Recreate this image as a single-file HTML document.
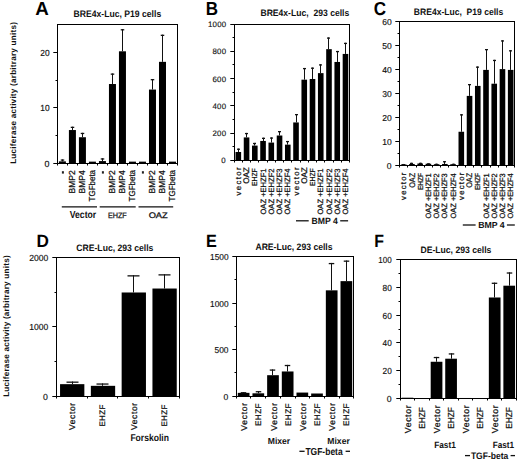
<!DOCTYPE html>
<html><head><meta charset="utf-8"><style>
html,body{margin:0;padding:0;background:#fff;}
svg{display:block;text-rendering:geometricPrecision;font-family:"Liberation Sans",sans-serif;}
</style></head><body>
<svg xml:space="preserve" width="520" height="460" viewBox="0 0 520 460">
<rect width="520" height="460" fill="#fff"/>
<text x="35.25" y="15" font-size="18.75" font-weight="bold" fill="#000" textLength="14" lengthAdjust="spacing">A</text>
<text x="73.62" y="17" font-size="9.45" font-weight="bold" fill="#111" textLength="87.56" lengthAdjust="spacingAndGlyphs">BRE4x-Luc, P19 cells</text>
<rect x="57.5" y="24.5" width="120" height="139" fill="none" stroke="#000" stroke-width="1.0"/>
<line x1="53.3" y1="163.5" x2="57.5" y2="163.5" stroke="#000" stroke-width="1.0"/>
<line x1="53.3" y1="107.5" x2="57.5" y2="107.5" stroke="#000" stroke-width="1.0"/>
<line x1="53.3" y1="52.5" x2="57.5" y2="52.5" stroke="#000" stroke-width="1.0"/>
<line x1="55.5" y1="135.5" x2="57.5" y2="135.5" stroke="#000" stroke-width="1.0"/>
<line x1="55.5" y1="80.5" x2="57.5" y2="80.5" stroke="#000" stroke-width="1.0"/>
<text x="44.54" y="166.8" font-size="8.88" font-weight="normal" fill="#111" stroke="#111" stroke-width="0.15" textLength="5.01" lengthAdjust="spacing">0</text>
<text x="40.24" y="111.36" font-size="8.88" font-weight="normal" fill="#111" stroke="#111" stroke-width="0.15" textLength="9.31" lengthAdjust="spacingAndGlyphs">10</text>
<text x="40.24" y="55.92" font-size="8.88" font-weight="normal" fill="#111" stroke="#111" stroke-width="0.15" textLength="9.31" lengthAdjust="spacingAndGlyphs">20</text>
<rect x="58.9" y="161.36" width="7" height="1.94" fill="#000"/>
<line x1="62.5" y1="159.42" x2="62.5" y2="161.36" stroke="#111" stroke-width="1.0"/>
<line x1="60.75" y1="160.07" x2="64.25" y2="160.07" stroke="#111" stroke-width="1.3"/>
<rect x="68.91" y="130.04" width="7" height="33.26" fill="#000"/>
<line x1="72.5" y1="126.71" x2="72.5" y2="130.04" stroke="#111" stroke-width="1.0"/>
<line x1="70.75" y1="127.36" x2="74.25" y2="127.36" stroke="#111" stroke-width="1.3"/>
<rect x="78.92" y="137.24" width="7" height="26.06" fill="#000"/>
<line x1="82.5" y1="132.81" x2="82.5" y2="137.24" stroke="#111" stroke-width="1.0"/>
<line x1="80.75" y1="133.46" x2="84.25" y2="133.46" stroke="#111" stroke-width="1.3"/>
<rect x="88.93" y="161.64" width="7" height="1.66" fill="#000"/>
<rect x="98.94" y="161.08" width="7" height="2.22" fill="#000"/>
<line x1="102.5" y1="158.31" x2="102.5" y2="161.08" stroke="#111" stroke-width="1.0"/>
<line x1="100.75" y1="158.96" x2="104.25" y2="158.96" stroke="#111" stroke-width="1.3"/>
<rect x="108.95" y="84.02" width="7" height="79.28" fill="#000"/>
<line x1="112.5" y1="73.49" x2="112.5" y2="84.02" stroke="#111" stroke-width="1.0"/>
<line x1="110.75" y1="74.14" x2="114.25" y2="74.14" stroke="#111" stroke-width="1.3"/>
<rect x="118.95" y="51.31" width="7" height="111.99" fill="#000"/>
<line x1="122.5" y1="29.14" x2="122.5" y2="51.31" stroke="#111" stroke-width="1.0"/>
<line x1="120.75" y1="29.79" x2="124.25" y2="29.79" stroke="#111" stroke-width="1.3"/>
<rect x="128.96" y="161.64" width="7" height="1.66" fill="#000"/>
<rect x="138.97" y="161.64" width="7" height="1.66" fill="#000"/>
<rect x="148.98" y="89.56" width="7" height="73.74" fill="#000"/>
<line x1="152.5" y1="79.03" x2="152.5" y2="89.56" stroke="#111" stroke-width="1.0"/>
<line x1="150.75" y1="79.68" x2="154.25" y2="79.68" stroke="#111" stroke-width="1.3"/>
<rect x="158.99" y="61.84" width="7" height="101.46" fill="#000"/>
<line x1="162.5" y1="34.68" x2="162.5" y2="61.84" stroke="#111" stroke-width="1.0"/>
<line x1="160.75" y1="35.33" x2="164.25" y2="35.33" stroke="#111" stroke-width="1.3"/>
<rect x="169" y="161.64" width="7" height="1.66" fill="#000"/>
<line x1="57.5" y1="163.5" x2="57.5" y2="165.5" stroke="#000" stroke-width="1.0"/>
<line x1="67.5" y1="163.5" x2="67.5" y2="165.5" stroke="#000" stroke-width="1.0"/>
<line x1="77.5" y1="163.5" x2="77.5" y2="165.5" stroke="#000" stroke-width="1.0"/>
<line x1="87.5" y1="163.5" x2="87.5" y2="165.5" stroke="#000" stroke-width="1.0"/>
<line x1="97.5" y1="163.5" x2="97.5" y2="165.5" stroke="#000" stroke-width="1.0"/>
<line x1="107.5" y1="163.5" x2="107.5" y2="165.5" stroke="#000" stroke-width="1.0"/>
<line x1="117.5" y1="163.5" x2="117.5" y2="165.5" stroke="#000" stroke-width="1.0"/>
<line x1="127.5" y1="163.5" x2="127.5" y2="165.5" stroke="#000" stroke-width="1.0"/>
<line x1="137.5" y1="163.5" x2="137.5" y2="165.5" stroke="#000" stroke-width="1.0"/>
<line x1="147.5" y1="163.5" x2="147.5" y2="165.5" stroke="#000" stroke-width="1.0"/>
<line x1="157.5" y1="163.5" x2="157.5" y2="165.5" stroke="#000" stroke-width="1.0"/>
<line x1="167.5" y1="163.5" x2="167.5" y2="165.5" stroke="#000" stroke-width="1.0"/>
<line x1="177.5" y1="163.5" x2="177.5" y2="165.5" stroke="#000" stroke-width="1.0"/>
<text transform="translate(75.2,193.45) rotate(-90)" font-size="8.72" font-weight="normal" fill="#111" stroke="#111" stroke-width="0.25" textLength="23.1" lengthAdjust="spacingAndGlyphs">BMP2</text>
<text transform="translate(85.2,193.45) rotate(-90)" font-size="8.72" font-weight="normal" fill="#111" stroke="#111" stroke-width="0.25" textLength="23.1" lengthAdjust="spacingAndGlyphs">BMP4</text>
<text transform="translate(95.1,201.45) rotate(-90)" font-size="8.72" font-weight="normal" fill="#111" stroke="#111" stroke-width="0.25" textLength="31.5" lengthAdjust="spacingAndGlyphs">TGFbeta</text>
<text transform="translate(115.2,193.45) rotate(-90)" font-size="8.72" font-weight="normal" fill="#111" stroke="#111" stroke-width="0.25" textLength="23.1" lengthAdjust="spacingAndGlyphs">BMP2</text>
<text transform="translate(125.2,193.45) rotate(-90)" font-size="8.72" font-weight="normal" fill="#111" stroke="#111" stroke-width="0.25" textLength="23.1" lengthAdjust="spacingAndGlyphs">BMP4</text>
<text transform="translate(135.1,201.45) rotate(-90)" font-size="8.72" font-weight="normal" fill="#111" stroke="#111" stroke-width="0.25" textLength="31.5" lengthAdjust="spacingAndGlyphs">TGFbeta</text>
<text transform="translate(155.2,193.45) rotate(-90)" font-size="8.72" font-weight="normal" fill="#111" stroke="#111" stroke-width="0.25" textLength="23.1" lengthAdjust="spacingAndGlyphs">BMP2</text>
<text transform="translate(165.2,193.45) rotate(-90)" font-size="8.72" font-weight="normal" fill="#111" stroke="#111" stroke-width="0.25" textLength="23.1" lengthAdjust="spacingAndGlyphs">BMP4</text>
<text transform="translate(175.1,201.45) rotate(-90)" font-size="8.72" font-weight="normal" fill="#111" stroke="#111" stroke-width="0.25" textLength="31.5" lengthAdjust="spacingAndGlyphs">TGFbeta</text>
<rect x="61.9" y="171.2" width="2" height="2.4" fill="#222"/>
<rect x="101.9" y="171.2" width="2" height="2.4" fill="#222"/>
<rect x="141.9" y="171.2" width="2" height="2.4" fill="#222"/>
<line x1="61.8" y1="206.8" x2="97" y2="206.8" stroke="#111" stroke-width="1.2"/>
<line x1="99.7" y1="206.8" x2="135.7" y2="206.8" stroke="#111" stroke-width="1.2"/>
<line x1="138.5" y1="206.8" x2="173.2" y2="206.8" stroke="#111" stroke-width="1.2"/>
<text x="69.79" y="218" font-size="10.17" font-weight="bold" fill="#111" textLength="26.41" lengthAdjust="spacingAndGlyphs">Vector</text>
<text x="107.89" y="218" font-size="7.7" font-weight="normal" fill="#111" stroke="#111" stroke-width="0.25" textLength="18.92" lengthAdjust="spacingAndGlyphs">EHZF</text>
<text x="148.67" y="218" font-size="8.14" font-weight="normal" fill="#111" stroke="#111" stroke-width="0.3" textLength="19.05" lengthAdjust="spacingAndGlyphs">OAZ</text>
<text x="205.75" y="15" font-size="18.75" font-weight="bold" fill="#000" textLength="12.3" lengthAdjust="spacingAndGlyphs">B</text>
<text x="260.43" y="16" font-size="9.3" font-weight="bold" fill="#111" textLength="88.84" lengthAdjust="spacingAndGlyphs">BRE4x-Luc, &#160;293 cells</text>
<rect x="234.5" y="24.5" width="115" height="136" fill="none" stroke="#000" stroke-width="1.0"/>
<line x1="230.3" y1="160.5" x2="234.5" y2="160.5" stroke="#000" stroke-width="1.0"/>
<line x1="230.3" y1="133.5" x2="234.5" y2="133.5" stroke="#000" stroke-width="1.0"/>
<line x1="230.3" y1="105.5" x2="234.5" y2="105.5" stroke="#000" stroke-width="1.0"/>
<line x1="230.3" y1="78.5" x2="234.5" y2="78.5" stroke="#000" stroke-width="1.0"/>
<line x1="230.3" y1="51.5" x2="234.5" y2="51.5" stroke="#000" stroke-width="1.0"/>
<line x1="230.3" y1="24.5" x2="234.5" y2="24.5" stroke="#000" stroke-width="1.0"/>
<line x1="232.5" y1="146.5" x2="234.5" y2="146.5" stroke="#000" stroke-width="1.0"/>
<line x1="232.5" y1="119.5" x2="234.5" y2="119.5" stroke="#000" stroke-width="1.0"/>
<line x1="232.5" y1="92.5" x2="234.5" y2="92.5" stroke="#000" stroke-width="1.0"/>
<line x1="232.5" y1="64.5" x2="234.5" y2="64.5" stroke="#000" stroke-width="1.0"/>
<line x1="232.5" y1="37.5" x2="234.5" y2="37.5" stroke="#000" stroke-width="1.0"/>
<text x="221.18" y="163.45" font-size="7.88" font-weight="normal" fill="#111" stroke="#111" stroke-width="0.15" textLength="5.03" lengthAdjust="spacing">0</text>
<text x="212.38" y="136.21" font-size="7.88" font-weight="normal" fill="#111" stroke="#111" stroke-width="0.15" textLength="13.83" lengthAdjust="spacing">200</text>
<text x="212.38" y="108.97" font-size="7.88" font-weight="normal" fill="#111" stroke="#111" stroke-width="0.15" textLength="13.83" lengthAdjust="spacing">400</text>
<text x="212.38" y="81.73" font-size="7.88" font-weight="normal" fill="#111" stroke="#111" stroke-width="0.15" textLength="13.83" lengthAdjust="spacing">600</text>
<text x="212.38" y="54.49" font-size="7.88" font-weight="normal" fill="#111" stroke="#111" stroke-width="0.15" textLength="13.83" lengthAdjust="spacing">800</text>
<text x="207.98" y="27.25" font-size="7.88" font-weight="normal" fill="#111" stroke="#111" stroke-width="0.15" textLength="18.23" lengthAdjust="spacing">1000</text>
<rect x="235.52" y="151.99" width="5.6" height="8.31" fill="#000"/>
<line x1="238.5" y1="148.59" x2="238.5" y2="151.99" stroke="#111" stroke-width="1.0"/>
<line x1="237" y1="149.24" x2="240" y2="149.24" stroke="#111" stroke-width="1.3"/>
<rect x="243.76" y="137.42" width="5.6" height="22.88" fill="#000"/>
<line x1="246.5" y1="132.92" x2="246.5" y2="137.42" stroke="#111" stroke-width="1.0"/>
<line x1="245" y1="133.57" x2="248" y2="133.57" stroke="#111" stroke-width="1.3"/>
<rect x="252.01" y="145.59" width="5.6" height="14.71" fill="#000"/>
<line x1="254.5" y1="142.87" x2="254.5" y2="145.59" stroke="#111" stroke-width="1.0"/>
<line x1="253" y1="143.52" x2="256" y2="143.52" stroke="#111" stroke-width="1.3"/>
<rect x="260.25" y="140.96" width="5.6" height="19.34" fill="#000"/>
<line x1="263.5" y1="137.69" x2="263.5" y2="140.96" stroke="#111" stroke-width="1.0"/>
<line x1="262" y1="138.34" x2="265" y2="138.34" stroke="#111" stroke-width="1.3"/>
<rect x="268.49" y="142.59" width="5.6" height="17.71" fill="#000"/>
<line x1="271.5" y1="137.42" x2="271.5" y2="142.59" stroke="#111" stroke-width="1.0"/>
<line x1="270" y1="138.07" x2="273" y2="138.07" stroke="#111" stroke-width="1.3"/>
<rect x="276.74" y="135.51" width="5.6" height="24.79" fill="#000"/>
<line x1="279.5" y1="131.02" x2="279.5" y2="135.51" stroke="#111" stroke-width="1.0"/>
<line x1="278" y1="131.67" x2="281" y2="131.67" stroke="#111" stroke-width="1.3"/>
<rect x="284.98" y="144.64" width="5.6" height="15.66" fill="#000"/>
<line x1="287.5" y1="140.96" x2="287.5" y2="144.64" stroke="#111" stroke-width="1.0"/>
<line x1="286" y1="141.61" x2="289" y2="141.61" stroke="#111" stroke-width="1.3"/>
<rect x="293.22" y="122.44" width="5.6" height="37.86" fill="#000"/>
<line x1="296.5" y1="113.99" x2="296.5" y2="122.44" stroke="#111" stroke-width="1.0"/>
<line x1="295" y1="114.64" x2="298" y2="114.64" stroke="#111" stroke-width="1.3"/>
<rect x="301.46" y="79.67" width="5.6" height="80.63" fill="#000"/>
<line x1="304.5" y1="67.96" x2="304.5" y2="79.67" stroke="#111" stroke-width="1.0"/>
<line x1="303" y1="68.61" x2="306" y2="68.61" stroke="#111" stroke-width="1.3"/>
<rect x="309.71" y="78.99" width="5.6" height="81.31" fill="#000"/>
<line x1="312.5" y1="67.55" x2="312.5" y2="78.99" stroke="#111" stroke-width="1.0"/>
<line x1="311" y1="68.2" x2="314" y2="68.2" stroke="#111" stroke-width="1.3"/>
<rect x="317.95" y="73.13" width="5.6" height="87.17" fill="#000"/>
<line x1="320.5" y1="64.28" x2="320.5" y2="73.13" stroke="#111" stroke-width="1.0"/>
<line x1="319" y1="64.93" x2="322" y2="64.93" stroke="#111" stroke-width="1.3"/>
<rect x="326.19" y="49.16" width="5.6" height="111.14" fill="#000"/>
<line x1="328.5" y1="37.45" x2="328.5" y2="49.16" stroke="#111" stroke-width="1.0"/>
<line x1="327" y1="38.1" x2="330" y2="38.1" stroke="#111" stroke-width="1.3"/>
<rect x="334.44" y="61.96" width="5.6" height="98.34" fill="#000"/>
<line x1="337.5" y1="50.93" x2="337.5" y2="61.96" stroke="#111" stroke-width="1.0"/>
<line x1="336" y1="51.58" x2="339" y2="51.58" stroke="#111" stroke-width="1.3"/>
<rect x="342.68" y="53.93" width="5.6" height="106.37" fill="#000"/>
<line x1="345.5" y1="42.76" x2="345.5" y2="53.93" stroke="#111" stroke-width="1.0"/>
<line x1="344" y1="43.41" x2="347" y2="43.41" stroke="#111" stroke-width="1.3"/>
<line x1="234.5" y1="160.5" x2="234.5" y2="162.5" stroke="#000" stroke-width="1.0"/>
<line x1="242.5" y1="160.5" x2="242.5" y2="162.5" stroke="#000" stroke-width="1.0"/>
<line x1="250.5" y1="160.5" x2="250.5" y2="162.5" stroke="#000" stroke-width="1.0"/>
<line x1="258.5" y1="160.5" x2="258.5" y2="162.5" stroke="#000" stroke-width="1.0"/>
<line x1="267.5" y1="160.5" x2="267.5" y2="162.5" stroke="#000" stroke-width="1.0"/>
<line x1="275.5" y1="160.5" x2="275.5" y2="162.5" stroke="#000" stroke-width="1.0"/>
<line x1="283.5" y1="160.5" x2="283.5" y2="162.5" stroke="#000" stroke-width="1.0"/>
<line x1="291.5" y1="160.5" x2="291.5" y2="162.5" stroke="#000" stroke-width="1.0"/>
<line x1="300.5" y1="160.5" x2="300.5" y2="162.5" stroke="#000" stroke-width="1.0"/>
<line x1="308.5" y1="160.5" x2="308.5" y2="162.5" stroke="#000" stroke-width="1.0"/>
<line x1="316.5" y1="160.5" x2="316.5" y2="162.5" stroke="#000" stroke-width="1.0"/>
<line x1="324.5" y1="160.5" x2="324.5" y2="162.5" stroke="#000" stroke-width="1.0"/>
<line x1="333.5" y1="160.5" x2="333.5" y2="162.5" stroke="#000" stroke-width="1.0"/>
<line x1="341.5" y1="160.5" x2="341.5" y2="162.5" stroke="#000" stroke-width="1.0"/>
<line x1="349.5" y1="160.5" x2="349.5" y2="162.5" stroke="#000" stroke-width="1.0"/>
<text transform="translate(240.92,195.61) rotate(-90)" font-size="7.74" font-weight="normal" fill="#111" stroke="#111" stroke-width="0.25" textLength="28.22" lengthAdjust="spacing">vector</text>
<text transform="translate(249.36,183.83) rotate(-90)" font-size="8.14" font-weight="normal" fill="#111" stroke="#111" stroke-width="0.25" textLength="16.65" lengthAdjust="spacingAndGlyphs">OAZ</text>
<text transform="translate(257.31,186.09) rotate(-90)" font-size="7.27" font-weight="normal" fill="#111" stroke="#111" stroke-width="0.25" textLength="17.88" lengthAdjust="spacingAndGlyphs">EHZF</text>
<text transform="translate(265.65,214.51) rotate(-90)" font-size="7.7" font-weight="normal" fill="#111" stroke="#111" stroke-width="0.25" textLength="46.02" lengthAdjust="spacingAndGlyphs">OAZ +EHZF1</text>
<text transform="translate(273.89,214.51) rotate(-90)" font-size="7.7" font-weight="normal" fill="#111" stroke="#111" stroke-width="0.25" textLength="46.02" lengthAdjust="spacingAndGlyphs">OAZ +EHZF2</text>
<text transform="translate(282.14,214.51) rotate(-90)" font-size="7.7" font-weight="normal" fill="#111" stroke="#111" stroke-width="0.25" textLength="46.02" lengthAdjust="spacingAndGlyphs">OAZ +EHZF3</text>
<text transform="translate(290.38,214.51) rotate(-90)" font-size="7.7" font-weight="normal" fill="#111" stroke="#111" stroke-width="0.25" textLength="46.02" lengthAdjust="spacingAndGlyphs">OAZ +EHZF4</text>
<text transform="translate(298.62,195.61) rotate(-90)" font-size="7.74" font-weight="normal" fill="#111" stroke="#111" stroke-width="0.25" textLength="28.22" lengthAdjust="spacing">vector</text>
<text transform="translate(307.06,183.83) rotate(-90)" font-size="8.14" font-weight="normal" fill="#111" stroke="#111" stroke-width="0.25" textLength="16.65" lengthAdjust="spacingAndGlyphs">OAZ</text>
<text transform="translate(315.01,186.09) rotate(-90)" font-size="7.27" font-weight="normal" fill="#111" stroke="#111" stroke-width="0.25" textLength="17.88" lengthAdjust="spacingAndGlyphs">EHZF</text>
<text transform="translate(323.35,214.51) rotate(-90)" font-size="7.7" font-weight="normal" fill="#111" stroke="#111" stroke-width="0.25" textLength="46.02" lengthAdjust="spacingAndGlyphs">OAZ +EHZF1</text>
<text transform="translate(331.59,214.51) rotate(-90)" font-size="7.7" font-weight="normal" fill="#111" stroke="#111" stroke-width="0.25" textLength="46.02" lengthAdjust="spacingAndGlyphs">OAZ +EHZF2</text>
<text transform="translate(339.84,214.51) rotate(-90)" font-size="7.7" font-weight="normal" fill="#111" stroke="#111" stroke-width="0.25" textLength="46.02" lengthAdjust="spacingAndGlyphs">OAZ +EHZF3</text>
<text transform="translate(348.08,214.51) rotate(-90)" font-size="7.7" font-weight="normal" fill="#111" stroke="#111" stroke-width="0.25" textLength="46.02" lengthAdjust="spacingAndGlyphs">OAZ +EHZF4</text>
<line x1="296" y1="220.8" x2="308.7" y2="220.8" stroke="#111" stroke-width="1.3"/>
<text x="311.54" y="224" font-size="9.01" font-weight="bold" fill="#111" textLength="26.32" lengthAdjust="spacingAndGlyphs">BMP 4</text>
<line x1="340.2" y1="220.8" x2="348.1" y2="220.8" stroke="#111" stroke-width="1.3"/>
<text x="373.65" y="15" font-size="18.75" font-weight="bold" fill="#000" textLength="12.3" lengthAdjust="spacingAndGlyphs">C</text>
<text x="413.83" y="15" font-size="9.3" font-weight="bold" fill="#111" textLength="89.44" lengthAdjust="spacingAndGlyphs">BRE4x-Luc, &#160;P19 cells</text>
<rect x="399.5" y="21.5" width="115" height="144" fill="none" stroke="#000" stroke-width="1.0"/>
<line x1="395.3" y1="165.5" x2="399.5" y2="165.5" stroke="#000" stroke-width="1.0"/>
<line x1="395.3" y1="141.5" x2="399.5" y2="141.5" stroke="#000" stroke-width="1.0"/>
<line x1="395.3" y1="117.5" x2="399.5" y2="117.5" stroke="#000" stroke-width="1.0"/>
<line x1="395.3" y1="93.5" x2="399.5" y2="93.5" stroke="#000" stroke-width="1.0"/>
<line x1="395.3" y1="69.5" x2="399.5" y2="69.5" stroke="#000" stroke-width="1.0"/>
<line x1="395.3" y1="45.5" x2="399.5" y2="45.5" stroke="#000" stroke-width="1.0"/>
<line x1="395.3" y1="21.5" x2="399.5" y2="21.5" stroke="#000" stroke-width="1.0"/>
<line x1="397.5" y1="153.5" x2="399.5" y2="153.5" stroke="#000" stroke-width="1.0"/>
<line x1="397.5" y1="129.5" x2="399.5" y2="129.5" stroke="#000" stroke-width="1.0"/>
<line x1="397.5" y1="105.5" x2="399.5" y2="105.5" stroke="#000" stroke-width="1.0"/>
<line x1="397.5" y1="81.5" x2="399.5" y2="81.5" stroke="#000" stroke-width="1.0"/>
<line x1="397.5" y1="57.5" x2="399.5" y2="57.5" stroke="#000" stroke-width="1.0"/>
<line x1="397.5" y1="33.5" x2="399.5" y2="33.5" stroke="#000" stroke-width="1.0"/>
<text x="386.76" y="168.8" font-size="8.6" font-weight="normal" fill="#111" stroke="#111" stroke-width="0.15" textLength="5.09" lengthAdjust="spacing">0</text>
<text x="382.36" y="144.88" font-size="8.6" font-weight="normal" fill="#111" stroke="#111" stroke-width="0.15" textLength="9.49" lengthAdjust="spacingAndGlyphs">10</text>
<text x="382.36" y="120.97" font-size="8.6" font-weight="normal" fill="#111" stroke="#111" stroke-width="0.15" textLength="9.49" lengthAdjust="spacingAndGlyphs">20</text>
<text x="382.36" y="97.05" font-size="8.6" font-weight="normal" fill="#111" stroke="#111" stroke-width="0.15" textLength="9.49" lengthAdjust="spacingAndGlyphs">30</text>
<text x="382.36" y="73.13" font-size="8.6" font-weight="normal" fill="#111" stroke="#111" stroke-width="0.15" textLength="9.49" lengthAdjust="spacingAndGlyphs">40</text>
<text x="382.36" y="49.22" font-size="8.6" font-weight="normal" fill="#111" stroke="#111" stroke-width="0.15" textLength="9.49" lengthAdjust="spacingAndGlyphs">50</text>
<text x="382.36" y="25.3" font-size="8.6" font-weight="normal" fill="#111" stroke="#111" stroke-width="0.15" textLength="9.49" lengthAdjust="spacingAndGlyphs">60</text>
<rect x="400.91" y="164.44" width="5.6" height="0.96" fill="#000"/>
<line x1="403.5" y1="163.97" x2="403.5" y2="164.44" stroke="#111" stroke-width="1.0"/>
<line x1="402" y1="164.62" x2="405" y2="164.62" stroke="#111" stroke-width="1.3"/>
<rect x="409.14" y="163.97" width="5.6" height="1.44" fill="#000"/>
<line x1="411.5" y1="162.77" x2="411.5" y2="163.97" stroke="#111" stroke-width="1.0"/>
<line x1="410" y1="163.42" x2="413" y2="163.42" stroke="#111" stroke-width="1.3"/>
<rect x="417.37" y="163.49" width="5.6" height="1.91" fill="#000"/>
<line x1="420.5" y1="162.77" x2="420.5" y2="163.49" stroke="#111" stroke-width="1.0"/>
<line x1="419" y1="163.42" x2="422" y2="163.42" stroke="#111" stroke-width="1.3"/>
<rect x="425.6" y="163.73" width="5.6" height="1.67" fill="#000"/>
<line x1="428.5" y1="163.25" x2="428.5" y2="163.73" stroke="#111" stroke-width="1.0"/>
<line x1="427" y1="163.9" x2="430" y2="163.9" stroke="#111" stroke-width="1.3"/>
<rect x="433.83" y="164.2" width="5.6" height="1.2" fill="#000"/>
<line x1="436.5" y1="163.73" x2="436.5" y2="164.2" stroke="#111" stroke-width="1.0"/>
<line x1="435" y1="164.38" x2="438" y2="164.38" stroke="#111" stroke-width="1.3"/>
<rect x="442.06" y="163.97" width="5.6" height="1.44" fill="#000"/>
<line x1="444.5" y1="161.09" x2="444.5" y2="163.97" stroke="#111" stroke-width="1.0"/>
<line x1="443" y1="161.75" x2="446" y2="161.75" stroke="#111" stroke-width="1.3"/>
<rect x="450.29" y="164.2" width="5.6" height="1.2" fill="#000"/>
<line x1="453.5" y1="163.73" x2="453.5" y2="164.2" stroke="#111" stroke-width="1.0"/>
<line x1="452" y1="164.38" x2="455" y2="164.38" stroke="#111" stroke-width="1.3"/>
<rect x="458.51" y="131.75" width="5.6" height="33.65" fill="#000"/>
<line x1="461.5" y1="114.22" x2="461.5" y2="131.75" stroke="#111" stroke-width="1.0"/>
<line x1="460" y1="114.87" x2="463" y2="114.87" stroke="#111" stroke-width="1.3"/>
<rect x="466.74" y="95.9" width="5.6" height="69.5" fill="#000"/>
<line x1="469.5" y1="84.01" x2="469.5" y2="95.9" stroke="#111" stroke-width="1.0"/>
<line x1="468" y1="84.66" x2="471" y2="84.66" stroke="#111" stroke-width="1.3"/>
<rect x="474.97" y="85.9" width="5.6" height="79.5" fill="#000"/>
<line x1="477.5" y1="66.5" x2="477.5" y2="85.9" stroke="#111" stroke-width="1.0"/>
<line x1="476" y1="67.15" x2="479" y2="67.15" stroke="#111" stroke-width="1.3"/>
<rect x="483.2" y="69.9" width="5.6" height="95.5" fill="#000"/>
<line x1="486.5" y1="49" x2="486.5" y2="69.9" stroke="#111" stroke-width="1.0"/>
<line x1="485" y1="49.65" x2="488" y2="49.65" stroke="#111" stroke-width="1.3"/>
<rect x="491.43" y="83.7" width="5.6" height="81.7" fill="#000"/>
<line x1="494.5" y1="59.81" x2="494.5" y2="83.7" stroke="#111" stroke-width="1.0"/>
<line x1="493" y1="60.46" x2="496" y2="60.46" stroke="#111" stroke-width="1.3"/>
<rect x="499.66" y="69.11" width="5.6" height="96.29" fill="#000"/>
<line x1="502.5" y1="40.29" x2="502.5" y2="69.11" stroke="#111" stroke-width="1.0"/>
<line x1="501" y1="40.94" x2="504" y2="40.94" stroke="#111" stroke-width="1.3"/>
<rect x="507.89" y="69.9" width="5.6" height="95.5" fill="#000"/>
<line x1="510.5" y1="50.19" x2="510.5" y2="69.9" stroke="#111" stroke-width="1.0"/>
<line x1="509" y1="50.84" x2="512" y2="50.84" stroke="#111" stroke-width="1.3"/>
<line x1="399.5" y1="165.5" x2="399.5" y2="167.5" stroke="#000" stroke-width="1.0"/>
<line x1="407.5" y1="165.5" x2="407.5" y2="167.5" stroke="#000" stroke-width="1.0"/>
<line x1="416.5" y1="165.5" x2="416.5" y2="167.5" stroke="#000" stroke-width="1.0"/>
<line x1="424.5" y1="165.5" x2="424.5" y2="167.5" stroke="#000" stroke-width="1.0"/>
<line x1="432.5" y1="165.5" x2="432.5" y2="167.5" stroke="#000" stroke-width="1.0"/>
<line x1="440.5" y1="165.5" x2="440.5" y2="167.5" stroke="#000" stroke-width="1.0"/>
<line x1="448.5" y1="165.5" x2="448.5" y2="167.5" stroke="#000" stroke-width="1.0"/>
<line x1="457.5" y1="165.5" x2="457.5" y2="167.5" stroke="#000" stroke-width="1.0"/>
<line x1="465.5" y1="165.5" x2="465.5" y2="167.5" stroke="#000" stroke-width="1.0"/>
<line x1="473.5" y1="165.5" x2="473.5" y2="167.5" stroke="#000" stroke-width="1.0"/>
<line x1="481.5" y1="165.5" x2="481.5" y2="167.5" stroke="#000" stroke-width="1.0"/>
<line x1="490.5" y1="165.5" x2="490.5" y2="167.5" stroke="#000" stroke-width="1.0"/>
<line x1="498.5" y1="165.5" x2="498.5" y2="167.5" stroke="#000" stroke-width="1.0"/>
<line x1="506.5" y1="165.5" x2="506.5" y2="167.5" stroke="#000" stroke-width="1.0"/>
<line x1="514.5" y1="165.5" x2="514.5" y2="167.5" stroke="#000" stroke-width="1.0"/>
<text transform="translate(406.31,199.91) rotate(-90)" font-size="7.74" font-weight="normal" fill="#111" stroke="#111" stroke-width="0.25" textLength="27.22" lengthAdjust="spacing">vector</text>
<text transform="translate(414.74,187.83) rotate(-90)" font-size="8.14" font-weight="normal" fill="#111" stroke="#111" stroke-width="0.25" textLength="15.05" lengthAdjust="spacingAndGlyphs">OAZ</text>
<text transform="translate(422.67,190.09) rotate(-90)" font-size="7.27" font-weight="normal" fill="#111" stroke="#111" stroke-width="0.25" textLength="17.18" lengthAdjust="spacingAndGlyphs">EHZF</text>
<text transform="translate(431,218.41) rotate(-90)" font-size="7.7" font-weight="normal" fill="#111" stroke="#111" stroke-width="0.25" textLength="45.12" lengthAdjust="spacingAndGlyphs">OAZ +EHZF1</text>
<text transform="translate(439.23,218.41) rotate(-90)" font-size="7.7" font-weight="normal" fill="#111" stroke="#111" stroke-width="0.25" textLength="45.12" lengthAdjust="spacingAndGlyphs">OAZ +EHZF2</text>
<text transform="translate(447.46,218.41) rotate(-90)" font-size="7.7" font-weight="normal" fill="#111" stroke="#111" stroke-width="0.25" textLength="45.12" lengthAdjust="spacingAndGlyphs">OAZ +EHZF3</text>
<text transform="translate(455.69,218.41) rotate(-90)" font-size="7.7" font-weight="normal" fill="#111" stroke="#111" stroke-width="0.25" textLength="45.12" lengthAdjust="spacingAndGlyphs">OAZ +EHZF4</text>
<text transform="translate(463.91,199.91) rotate(-90)" font-size="7.74" font-weight="normal" fill="#111" stroke="#111" stroke-width="0.25" textLength="27.22" lengthAdjust="spacing">vector</text>
<text transform="translate(472.34,187.83) rotate(-90)" font-size="8.14" font-weight="normal" fill="#111" stroke="#111" stroke-width="0.25" textLength="15.05" lengthAdjust="spacingAndGlyphs">OAZ</text>
<text transform="translate(480.27,190.09) rotate(-90)" font-size="7.27" font-weight="normal" fill="#111" stroke="#111" stroke-width="0.25" textLength="17.18" lengthAdjust="spacingAndGlyphs">EHZF</text>
<text transform="translate(488.6,218.41) rotate(-90)" font-size="7.7" font-weight="normal" fill="#111" stroke="#111" stroke-width="0.25" textLength="45.12" lengthAdjust="spacingAndGlyphs">OAZ +EHZF1</text>
<text transform="translate(496.83,218.41) rotate(-90)" font-size="7.7" font-weight="normal" fill="#111" stroke="#111" stroke-width="0.25" textLength="45.12" lengthAdjust="spacingAndGlyphs">OAZ +EHZF2</text>
<text transform="translate(505.06,218.41) rotate(-90)" font-size="7.7" font-weight="normal" fill="#111" stroke="#111" stroke-width="0.25" textLength="45.12" lengthAdjust="spacingAndGlyphs">OAZ +EHZF3</text>
<text transform="translate(513.29,218.41) rotate(-90)" font-size="7.7" font-weight="normal" fill="#111" stroke="#111" stroke-width="0.25" textLength="45.12" lengthAdjust="spacingAndGlyphs">OAZ +EHZF4</text>
<line x1="462.8" y1="225" x2="475.6" y2="225" stroke="#111" stroke-width="1.3"/>
<text x="478.15" y="228" font-size="8.87" font-weight="bold" fill="#111" textLength="26.61" lengthAdjust="spacingAndGlyphs">BMP 4</text>
<line x1="506.9" y1="225" x2="514.8" y2="225" stroke="#111" stroke-width="1.3"/>
<text x="36.49" y="247" font-size="17.73" font-weight="bold" fill="#000" textLength="12.42" lengthAdjust="spacingAndGlyphs">D</text>
<text x="76.33" y="251" font-size="9.3" font-weight="bold" fill="#111" textLength="77.04" lengthAdjust="spacingAndGlyphs">CRE-Luc, 293 cells</text>
<rect x="56.5" y="257.5" width="123" height="139" fill="none" stroke="#000" stroke-width="1.0"/>
<line x1="52.3" y1="396.5" x2="56.5" y2="396.5" stroke="#000" stroke-width="1.0"/>
<line x1="52.3" y1="326.5" x2="56.5" y2="326.5" stroke="#000" stroke-width="1.0"/>
<line x1="52.3" y1="257.5" x2="56.5" y2="257.5" stroke="#000" stroke-width="1.0"/>
<line x1="54.5" y1="361.5" x2="56.5" y2="361.5" stroke="#000" stroke-width="1.0"/>
<line x1="54.5" y1="292.5" x2="56.5" y2="292.5" stroke="#000" stroke-width="1.0"/>
<text x="42.95" y="399.55" font-size="8.74" font-weight="normal" fill="#111" stroke="#111" stroke-width="0.15" textLength="5.3" lengthAdjust="spacing">0</text>
<text x="29.15" y="330.15" font-size="8.74" font-weight="normal" fill="#111" stroke="#111" stroke-width="0.15" textLength="19.1" lengthAdjust="spacingAndGlyphs">1000</text>
<text x="29.15" y="260.75" font-size="8.74" font-weight="normal" fill="#111" stroke="#111" stroke-width="0.15" textLength="19.1" lengthAdjust="spacingAndGlyphs">2000</text>
<rect x="60.05" y="384.16" width="24.3" height="11.94" fill="#000"/>
<line x1="72.5" y1="381.53" x2="72.5" y2="384.16" stroke="#111" stroke-width="1.0"/>
<line x1="66.5" y1="382.18" x2="78.5" y2="382.18" stroke="#111" stroke-width="1.3"/>
<rect x="90.85" y="385.83" width="24.3" height="10.27" fill="#000"/>
<line x1="102.5" y1="383.4" x2="102.5" y2="385.83" stroke="#111" stroke-width="1.0"/>
<line x1="96.5" y1="384.05" x2="108.5" y2="384.05" stroke="#111" stroke-width="1.3"/>
<rect x="121.65" y="292.49" width="24.3" height="103.61" fill="#000"/>
<line x1="133.5" y1="275.21" x2="133.5" y2="292.49" stroke="#111" stroke-width="1.0"/>
<line x1="127.5" y1="275.86" x2="139.5" y2="275.86" stroke="#111" stroke-width="1.3"/>
<rect x="152.45" y="288.53" width="24.3" height="107.57" fill="#000"/>
<line x1="164.5" y1="274.23" x2="164.5" y2="288.53" stroke="#111" stroke-width="1.0"/>
<line x1="158.5" y1="274.88" x2="170.5" y2="274.88" stroke="#111" stroke-width="1.3"/>
<line x1="56.5" y1="396.5" x2="56.5" y2="398.5" stroke="#000" stroke-width="1.0"/>
<line x1="87.5" y1="396.5" x2="87.5" y2="398.5" stroke="#000" stroke-width="1.0"/>
<line x1="117.5" y1="396.5" x2="117.5" y2="398.5" stroke="#000" stroke-width="1.0"/>
<line x1="148.5" y1="396.5" x2="148.5" y2="398.5" stroke="#000" stroke-width="1.0"/>
<line x1="179.5" y1="396.5" x2="179.5" y2="398.5" stroke="#000" stroke-width="1.0"/>
<text transform="translate(75.1,430.04) rotate(-90)" font-size="8.43" font-weight="normal" fill="#111" stroke="#111" stroke-width="0.25" textLength="27.17" lengthAdjust="spacing">Vector</text>
<text transform="translate(104.9,426.62) rotate(-90)" font-size="7.99" font-weight="normal" fill="#111" stroke="#111" stroke-width="0.25" textLength="22.04" lengthAdjust="spacing">EHZF</text>
<text transform="translate(136.7,430.04) rotate(-90)" font-size="8.43" font-weight="normal" fill="#111" stroke="#111" stroke-width="0.25" textLength="27.17" lengthAdjust="spacing">Vector</text>
<text transform="translate(166.5,426.62) rotate(-90)" font-size="7.99" font-weight="normal" fill="#111" stroke="#111" stroke-width="0.25" textLength="22.04" lengthAdjust="spacing">EHZF</text>
<text x="130.4" y="441.4" font-size="9.88" font-weight="bold" fill="#111" textLength="38.49" lengthAdjust="spacingAndGlyphs">Forskolin</text>
<text x="205.99" y="247" font-size="17.73" font-weight="bold" fill="#000" textLength="10.82" lengthAdjust="spacingAndGlyphs">E</text>
<text x="255.43" y="250" font-size="9.3" font-weight="bold" fill="#111" textLength="77.14" lengthAdjust="spacingAndGlyphs">ARE-Luc, 293 cells</text>
<rect x="236.5" y="256.5" width="117" height="140" fill="none" stroke="#000" stroke-width="1.0"/>
<line x1="232.3" y1="396.5" x2="236.5" y2="396.5" stroke="#000" stroke-width="1.0"/>
<line x1="232.3" y1="349.5" x2="236.5" y2="349.5" stroke="#000" stroke-width="1.0"/>
<line x1="232.3" y1="303.5" x2="236.5" y2="303.5" stroke="#000" stroke-width="1.0"/>
<line x1="232.3" y1="256.5" x2="236.5" y2="256.5" stroke="#000" stroke-width="1.0"/>
<line x1="234.5" y1="372.5" x2="236.5" y2="372.5" stroke="#000" stroke-width="1.0"/>
<line x1="234.5" y1="326.5" x2="236.5" y2="326.5" stroke="#000" stroke-width="1.0"/>
<line x1="234.5" y1="279.5" x2="236.5" y2="279.5" stroke="#000" stroke-width="1.0"/>
<text x="223.41" y="399.5" font-size="8.6" font-weight="normal" fill="#111" stroke="#111" stroke-width="0.15" textLength="5.14" lengthAdjust="spacing">0</text>
<text x="214.51" y="353.03" font-size="8.6" font-weight="normal" fill="#111" stroke="#111" stroke-width="0.15" textLength="14.04" lengthAdjust="spacingAndGlyphs">500</text>
<text x="210.06" y="306.57" font-size="8.6" font-weight="normal" fill="#111" stroke="#111" stroke-width="0.15" textLength="18.49" lengthAdjust="spacingAndGlyphs">1000</text>
<text x="210.06" y="260.1" font-size="8.6" font-weight="normal" fill="#111" stroke="#111" stroke-width="0.15" textLength="18.49" lengthAdjust="spacingAndGlyphs">1500</text>
<rect x="237.79" y="392.85" width="11.7" height="3.25" fill="#000"/>
<line x1="243.5" y1="392.1" x2="243.5" y2="392.85" stroke="#111" stroke-width="1.0"/>
<line x1="240.75" y1="392.75" x2="246.25" y2="392.75" stroke="#111" stroke-width="1.3"/>
<rect x="252.46" y="393.31" width="11.7" height="2.79" fill="#000"/>
<line x1="258.5" y1="391.08" x2="258.5" y2="393.31" stroke="#111" stroke-width="1.0"/>
<line x1="255.75" y1="391.73" x2="261.25" y2="391.73" stroke="#111" stroke-width="1.3"/>
<rect x="267.14" y="375.19" width="11.7" height="20.91" fill="#000"/>
<line x1="272.5" y1="369.43" x2="272.5" y2="375.19" stroke="#111" stroke-width="1.0"/>
<line x1="269.75" y1="370.08" x2="275.25" y2="370.08" stroke="#111" stroke-width="1.3"/>
<rect x="281.81" y="371.47" width="11.7" height="24.63" fill="#000"/>
<line x1="287.5" y1="364.87" x2="287.5" y2="371.47" stroke="#111" stroke-width="1.0"/>
<line x1="284.75" y1="365.52" x2="290.25" y2="365.52" stroke="#111" stroke-width="1.3"/>
<rect x="296.49" y="392.57" width="11.7" height="3.53" fill="#000"/>
<rect x="311.16" y="393.5" width="11.7" height="2.6" fill="#000"/>
<rect x="325.84" y="290.34" width="11.7" height="105.76" fill="#000"/>
<line x1="331.5" y1="262.93" x2="331.5" y2="290.34" stroke="#111" stroke-width="1.0"/>
<line x1="328.75" y1="263.58" x2="334.25" y2="263.58" stroke="#111" stroke-width="1.3"/>
<rect x="340.51" y="281.14" width="11.7" height="114.96" fill="#000"/>
<line x1="346.5" y1="260.51" x2="346.5" y2="281.14" stroke="#111" stroke-width="1.0"/>
<line x1="343.75" y1="261.16" x2="349.25" y2="261.16" stroke="#111" stroke-width="1.3"/>
<line x1="236.5" y1="396.5" x2="236.5" y2="398.5" stroke="#000" stroke-width="1.0"/>
<line x1="250.5" y1="396.5" x2="250.5" y2="398.5" stroke="#000" stroke-width="1.0"/>
<line x1="265.5" y1="396.5" x2="265.5" y2="398.5" stroke="#000" stroke-width="1.0"/>
<line x1="280.5" y1="396.5" x2="280.5" y2="398.5" stroke="#000" stroke-width="1.0"/>
<line x1="295.5" y1="396.5" x2="295.5" y2="398.5" stroke="#000" stroke-width="1.0"/>
<line x1="309.5" y1="396.5" x2="309.5" y2="398.5" stroke="#000" stroke-width="1.0"/>
<line x1="324.5" y1="396.5" x2="324.5" y2="398.5" stroke="#000" stroke-width="1.0"/>
<line x1="339.5" y1="396.5" x2="339.5" y2="398.5" stroke="#000" stroke-width="1.0"/>
<line x1="353.5" y1="396.5" x2="353.5" y2="398.5" stroke="#000" stroke-width="1.0"/>
<text transform="translate(247.34,430.64) rotate(-90)" font-size="8.43" font-weight="normal" fill="#111" stroke="#111" stroke-width="0.25" textLength="27.77" lengthAdjust="spacing">Vector</text>
<text transform="translate(261.21,426.03) rotate(-90)" font-size="8.14" font-weight="normal" fill="#111" stroke="#111" stroke-width="0.25" textLength="22.55" lengthAdjust="spacing">EHZF</text>
<text transform="translate(276.69,430.64) rotate(-90)" font-size="8.43" font-weight="normal" fill="#111" stroke="#111" stroke-width="0.25" textLength="27.77" lengthAdjust="spacing">Vector</text>
<text transform="translate(290.56,426.03) rotate(-90)" font-size="8.14" font-weight="normal" fill="#111" stroke="#111" stroke-width="0.25" textLength="22.55" lengthAdjust="spacing">EHZF</text>
<text transform="translate(306.04,430.64) rotate(-90)" font-size="8.43" font-weight="normal" fill="#111" stroke="#111" stroke-width="0.25" textLength="27.77" lengthAdjust="spacing">Vector</text>
<text transform="translate(319.91,426.03) rotate(-90)" font-size="8.14" font-weight="normal" fill="#111" stroke="#111" stroke-width="0.25" textLength="22.55" lengthAdjust="spacing">EHZF</text>
<text transform="translate(335.39,430.64) rotate(-90)" font-size="8.43" font-weight="normal" fill="#111" stroke="#111" stroke-width="0.25" textLength="27.77" lengthAdjust="spacing">Vector</text>
<text transform="translate(349.26,426.03) rotate(-90)" font-size="8.14" font-weight="normal" fill="#111" stroke="#111" stroke-width="0.25" textLength="22.55" lengthAdjust="spacing">EHZF</text>
<text x="267.75" y="444.2" font-size="8.87" font-weight="bold" fill="#111" textLength="22.41" lengthAdjust="spacingAndGlyphs">Mixer</text>
<text x="327.35" y="444.2" font-size="8.87" font-weight="bold" fill="#111" textLength="22.41" lengthAdjust="spacingAndGlyphs">Mixer</text>
<line x1="299.4" y1="451.3" x2="304.6" y2="451.3" stroke="#111" stroke-width="1.3"/>
<text x="305.39" y="455" font-size="10.17" font-weight="bold" fill="#111" textLength="37.31" lengthAdjust="spacingAndGlyphs">TGF-beta</text>
<line x1="345.6" y1="451.3" x2="350" y2="451.3" stroke="#111" stroke-width="1.3"/>
<text x="374.29" y="247" font-size="17.73" font-weight="bold" fill="#000" textLength="9.72" lengthAdjust="spacingAndGlyphs">F</text>
<text x="420.43" y="253" font-size="9.3" font-weight="bold" fill="#111" textLength="70.94" lengthAdjust="spacingAndGlyphs">DE-Luc, 293 cells</text>
<rect x="400.5" y="259.5" width="116" height="139" fill="none" stroke="#000" stroke-width="1.0"/>
<line x1="396.3" y1="398.5" x2="400.5" y2="398.5" stroke="#000" stroke-width="1.0"/>
<line x1="396.3" y1="370.5" x2="400.5" y2="370.5" stroke="#000" stroke-width="1.0"/>
<line x1="396.3" y1="342.5" x2="400.5" y2="342.5" stroke="#000" stroke-width="1.0"/>
<line x1="396.3" y1="315.5" x2="400.5" y2="315.5" stroke="#000" stroke-width="1.0"/>
<line x1="396.3" y1="287.5" x2="400.5" y2="287.5" stroke="#000" stroke-width="1.0"/>
<line x1="396.3" y1="259.5" x2="400.5" y2="259.5" stroke="#000" stroke-width="1.0"/>
<line x1="398.5" y1="384.5" x2="400.5" y2="384.5" stroke="#000" stroke-width="1.0"/>
<line x1="398.5" y1="356.5" x2="400.5" y2="356.5" stroke="#000" stroke-width="1.0"/>
<line x1="398.5" y1="329.5" x2="400.5" y2="329.5" stroke="#000" stroke-width="1.0"/>
<line x1="398.5" y1="301.5" x2="400.5" y2="301.5" stroke="#000" stroke-width="1.0"/>
<line x1="398.5" y1="273.5" x2="400.5" y2="273.5" stroke="#000" stroke-width="1.0"/>
<text x="386.8" y="401.85" font-size="8.74" font-weight="normal" fill="#111" stroke="#111" stroke-width="0.15" textLength="4.95" lengthAdjust="spacing">0</text>
<text x="382.55" y="374.09" font-size="8.74" font-weight="normal" fill="#111" stroke="#111" stroke-width="0.15" textLength="9.2" lengthAdjust="spacingAndGlyphs">20</text>
<text x="382.55" y="346.33" font-size="8.74" font-weight="normal" fill="#111" stroke="#111" stroke-width="0.15" textLength="9.2" lengthAdjust="spacingAndGlyphs">40</text>
<text x="382.55" y="318.57" font-size="8.74" font-weight="normal" fill="#111" stroke="#111" stroke-width="0.15" textLength="9.2" lengthAdjust="spacingAndGlyphs">60</text>
<text x="382.55" y="290.81" font-size="8.74" font-weight="normal" fill="#111" stroke="#111" stroke-width="0.15" textLength="9.2" lengthAdjust="spacingAndGlyphs">80</text>
<text x="378.3" y="263.05" font-size="8.74" font-weight="normal" fill="#111" stroke="#111" stroke-width="0.15" textLength="13.45" lengthAdjust="spacingAndGlyphs">100</text>
<rect x="401.62" y="397.71" width="11.7" height="0.69" fill="#000"/>
<rect x="416.16" y="398.19" width="11.7" height="0.21" fill="#000"/>
<rect x="430.69" y="361.76" width="11.7" height="36.64" fill="#000"/>
<line x1="436.5" y1="356.9" x2="436.5" y2="361.76" stroke="#111" stroke-width="1.0"/>
<line x1="433.75" y1="357.55" x2="439.25" y2="357.55" stroke="#111" stroke-width="1.3"/>
<rect x="445.23" y="358.7" width="11.7" height="39.7" fill="#000"/>
<line x1="451.5" y1="353.29" x2="451.5" y2="358.7" stroke="#111" stroke-width="1.0"/>
<line x1="448.75" y1="353.94" x2="454.25" y2="353.94" stroke="#111" stroke-width="1.3"/>
<rect x="459.77" y="397.98" width="11.7" height="0.42" fill="#000"/>
<rect x="474.31" y="398.26" width="11.7" height="0.14" fill="#000"/>
<rect x="488.84" y="297.49" width="11.7" height="100.91" fill="#000"/>
<line x1="494.5" y1="282.64" x2="494.5" y2="297.49" stroke="#111" stroke-width="1.0"/>
<line x1="491.75" y1="283.29" x2="497.25" y2="283.29" stroke="#111" stroke-width="1.3"/>
<rect x="503.38" y="285.69" width="11.7" height="112.71" fill="#000"/>
<line x1="509.5" y1="272.37" x2="509.5" y2="285.69" stroke="#111" stroke-width="1.0"/>
<line x1="506.75" y1="273.02" x2="512.25" y2="273.02" stroke="#111" stroke-width="1.3"/>
<line x1="400.5" y1="398.5" x2="400.5" y2="400.5" stroke="#000" stroke-width="1.0"/>
<line x1="414.5" y1="398.5" x2="414.5" y2="400.5" stroke="#000" stroke-width="1.0"/>
<line x1="429.5" y1="398.5" x2="429.5" y2="400.5" stroke="#000" stroke-width="1.0"/>
<line x1="443.5" y1="398.5" x2="443.5" y2="400.5" stroke="#000" stroke-width="1.0"/>
<line x1="458.5" y1="398.5" x2="458.5" y2="400.5" stroke="#000" stroke-width="1.0"/>
<line x1="472.5" y1="398.5" x2="472.5" y2="400.5" stroke="#000" stroke-width="1.0"/>
<line x1="487.5" y1="398.5" x2="487.5" y2="400.5" stroke="#000" stroke-width="1.0"/>
<line x1="501.5" y1="398.5" x2="501.5" y2="400.5" stroke="#000" stroke-width="1.0"/>
<line x1="516.5" y1="398.5" x2="516.5" y2="400.5" stroke="#000" stroke-width="1.0"/>
<text transform="translate(411.17,433.25) rotate(-90)" font-size="8.72" font-weight="normal" fill="#111" stroke="#111" stroke-width="0.25" textLength="27.8" lengthAdjust="spacing">Vector</text>
<text transform="translate(425.01,428.65) rotate(-90)" font-size="8.72" font-weight="normal" fill="#111" stroke="#111" stroke-width="0.25" textLength="21.5" lengthAdjust="spacingAndGlyphs">EHZF</text>
<text transform="translate(440.24,433.25) rotate(-90)" font-size="8.72" font-weight="normal" fill="#111" stroke="#111" stroke-width="0.25" textLength="27.8" lengthAdjust="spacing">Vector</text>
<text transform="translate(454.08,428.65) rotate(-90)" font-size="8.72" font-weight="normal" fill="#111" stroke="#111" stroke-width="0.25" textLength="21.5" lengthAdjust="spacingAndGlyphs">EHZF</text>
<text transform="translate(469.32,433.25) rotate(-90)" font-size="8.72" font-weight="normal" fill="#111" stroke="#111" stroke-width="0.25" textLength="27.8" lengthAdjust="spacing">Vector</text>
<text transform="translate(483.16,428.65) rotate(-90)" font-size="8.72" font-weight="normal" fill="#111" stroke="#111" stroke-width="0.25" textLength="21.5" lengthAdjust="spacingAndGlyphs">EHZF</text>
<text transform="translate(498.39,433.25) rotate(-90)" font-size="8.72" font-weight="normal" fill="#111" stroke="#111" stroke-width="0.25" textLength="27.8" lengthAdjust="spacing">Vector</text>
<text transform="translate(512.23,428.65) rotate(-90)" font-size="8.72" font-weight="normal" fill="#111" stroke="#111" stroke-width="0.25" textLength="21.5" lengthAdjust="spacingAndGlyphs">EHZF</text>
<text x="434.14" y="447.5" font-size="9.08" font-weight="bold" fill="#111" textLength="21.73" lengthAdjust="spacingAndGlyphs">Fast1</text>
<text x="492.64" y="447.5" font-size="9.08" font-weight="bold" fill="#111" textLength="21.48" lengthAdjust="spacingAndGlyphs">Fast1</text>
<line x1="465" y1="455.6" x2="470" y2="455.6" stroke="#111" stroke-width="1.3"/>
<text x="470.92" y="459" font-size="9.45" font-weight="bold" fill="#111" textLength="37.46" lengthAdjust="spacingAndGlyphs">TGF-beta</text>
<line x1="510.6" y1="455.6" x2="515" y2="455.6" stroke="#111" stroke-width="1.3"/>
<text transform="translate(16.2,163.83) rotate(-90)" font-size="8.14" font-weight="bold" fill="#111" textLength="141.75" lengthAdjust="spacing">Luciferase activity (arbitrary units)</text>
<text transform="translate(9.3,396.83) rotate(-90)" font-size="8.14" font-weight="bold" fill="#111" textLength="141.45" lengthAdjust="spacing">Luciferase activity (arbitrary units)</text>
</svg>
</body></html>
